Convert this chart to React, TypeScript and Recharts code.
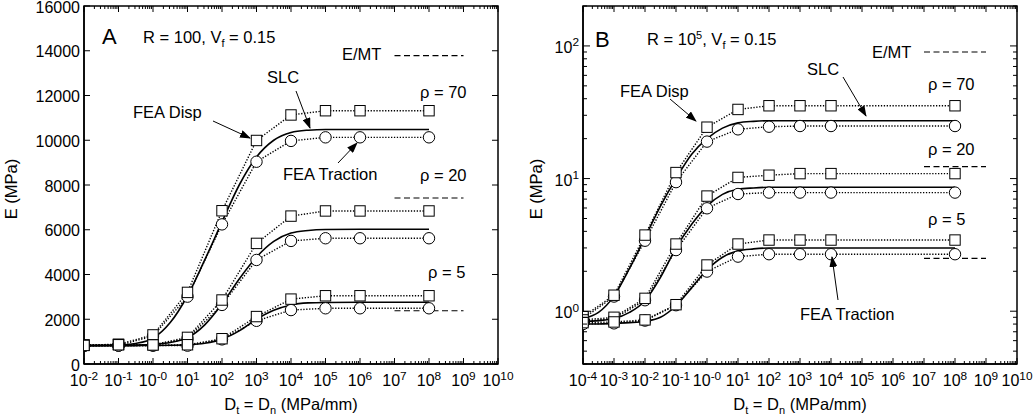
import React from 'react';
import { LineChart, Line, XAxis, YAxis, ReferenceArea } from 'recharts';

const FONT = '"Liberation Sans", Arial, Helvetica, sans-serif';

// ---------- Panel A (R = 100) ----------
const A_X = [0.01, 0.1, 1, 10, 100, 1e3, 1e4, 1e5, 1e6, 1e8];
const A_DISP_70 = [850, 880, 1300, 3200, 6850, 9990, 11130, 11320, 11320, 11320];
const A_TRAC_70 = [820, 830, 1250, 3010, 6240, 9040, 9970, 10130, 10130, 10130];
const A_DISP_20 = [840, 870, 860, 1190, 2860, 5390, 6610, 6840, 6840, 6840];
const A_TRAC_20 = [820, 830, 830, 1140, 2640, 4650, 5500, 5620, 5620, 5620];
const A_DISP_5 = [830, 860, 850, 860, 1130, 2120, 2900, 3050, 3050, 3050];
const A_TRAC_5 = [810, 820, 820, 820, 1100, 1930, 2410, 2490, 2490, 2490];

const A_SLC_X = [0.01, 0.1, 0.316, 1, 3.16, 10, 31.6, 100, 316, 1000, 3160, 1e4, 31600, 1e5, 1e6, 1e8];
const A_SLC_70 = [830, 850, 920, 1150, 1850, 3050, 4650, 6350, 8000, 9250, 10000, 10350, 10450, 10480, 10480, 10480];
const A_SLC_20 = [820, 830, 845, 880, 960, 1170, 1750, 2680, 3800, 4780, 5480, 5850, 5970, 6010, 6020, 6020];
const A_SLC_5 = [820, 820, 822, 830, 838, 860, 930, 1110, 1480, 2000, 2400, 2640, 2730, 2750, 2760, 2760];

const EMT_X = [1e7, 1e9];
const A_EMT = { r70: 13780, r20: 7420, r5: 2380 };

const A_X_DOMAIN: [number, number] = [1e-2, 1e10];
const A_Y_TICKS = [0, 2000, 4000, 6000, 8000, 10000, 12000, 14000, 16000];

// ---------- Panel B (R = 10^5) ----------
const B_X = [1e-4, 1e-3, 1e-2, 1e-1, 1, 10, 100, 1e3, 1e4, 1e8];
const B_DISP_70 = [0.91, 1.32, 3.75, 11.1, 24.4, 33.2, 35.4, 35.4, 35.4, 35.4];
const B_TRAC_70 = [0.88, 1.29, 3.4, 9.4, 19.0, 23.5, 24.6, 24.9, 24.9, 24.9];
const B_DISP_20 = [0.86, 0.9, 1.25, 3.21, 7.38, 10.2, 10.6, 10.9, 10.9, 10.9];
const B_TRAC_20 = [0.84, 0.88, 1.21, 2.89, 5.97, 7.65, 7.84, 7.84, 7.84, 7.84];
const B_DISP_5 = [0.82, 0.83, 0.86, 1.12, 2.23, 3.21, 3.44, 3.44, 3.44, 3.44];
const B_TRAC_5 = [0.8, 0.81, 0.85, 1.11, 1.99, 2.58, 2.69, 2.69, 2.69, 2.69];

const B_SLC_X = [1e-4, 3.16e-4, 1e-3, 3.16e-3, 1e-2, 3.16e-2, 0.1, 0.316, 1, 3.16, 10, 31.6, 100, 1e3, 1e4, 1e8];
const B_SLC_70 = [0.88, 0.98, 1.3, 2.1, 3.6, 6.2, 10.0, 15.2, 20.0, 24.0, 26.3, 27.0, 27.3, 27.3, 27.3, 27.3];
const B_SLC_20 = [0.84, 0.85, 0.88, 0.98, 1.2, 1.8, 3.0, 4.5, 6.2, 7.6, 8.3, 8.5, 8.6, 8.6, 8.6, 8.6];
const B_SLC_5 = [0.8, 0.8, 0.81, 0.82, 0.84, 0.9, 1.1, 1.5, 2.05, 2.55, 2.85, 2.95, 3.0, 3.0, 3.0, 3.0];

const B_EMT = { r70: 90, r20: 12.3, r5: 2.5 };

const B_X_DOMAIN: [number, number] = [1e-4, 1e10];
const B_Y_DOMAIN: [number, number] = [0.4, 200];

// ---------- helpers ----------
const pts = (xs: number[], ys: number[]) => xs.map((x, i) => ({ x, y: ys[i] }));

// decade ticks 1..9 x 10^e within a domain (axis tick positions only)
const logTicks = (lo: number, hi: number) => {
  const out: number[] = [];
  const minE = Math.floor(Math.log10(lo));
  const maxE = Math.ceil(Math.log10(hi));
  for (let e = minE; e <= maxE; e++) {
    for (let m = 1; m <= 9; m++) {
      const v = m * Math.pow(10, e);
      if (v >= lo * 0.999 && v <= hi * 1.001) out.push(v);
    }
  }
  return out;
};

const isMajor = (v: number) => {
  const e = Math.log10(v);
  return Math.abs(e - Math.round(e)) < 1e-6;
};

const Square = (p: any) => {
  const { cx, cy, index } = p;
  if (cx == null || cy == null) return <g key={`sq${index}`} />;
  return <rect key={`sq${index}`} x={cx - 5.2} y={cy - 5.2} width={10.4} height={10.4} fill="#fff" stroke="#000" strokeWidth={1} />;
};
const Circ = (p: any) => {
  const { cx, cy, index } = p;
  if (cx == null || cy == null) return <g key={`ci${index}`} />;
  return <circle key={`ci${index}`} cx={cx} cy={cy} r={5.7} fill="#fff" stroke="#000" strokeWidth={1} />;
};

const TICK_FS = 16;

const makeXTick = (pt: number, pb: number, gap: number) => (props: any) => {
  const { x, payload } = props;
  const v = payload.value;
  const major = isMajor(v);
  const len = major ? 6 : 3;
  const er = Math.round(Math.log10(v));
  const sup = er < 0 ? `-${-er}` : er === 0 ? '-0' : `${er}`;
  return (
    <g>
      <line x1={x} x2={x} y1={pb} y2={pb - len} stroke="#000" strokeWidth={1} />
      <line x1={x} x2={x} y1={pt} y2={pt + len} stroke="#000" strokeWidth={1} />
      {major && (
        <text x={x} y={pb + gap} textAnchor="middle" fontFamily={FONT} fontSize={TICK_FS} fill="#000">
          10<tspan dy={-6.5} fontSize={TICK_FS * 0.74}>{sup}</tspan>
        </text>
      )}
    </g>
  );
};

const makeLinYTick = (pl: number, pr: number) => (props: any) => {
  const { y, payload } = props;
  return (
    <g>
      <line x1={pl} x2={pl + 6} y1={y} y2={y} stroke="#000" strokeWidth={1} />
      <line x1={pr} x2={pr - 6} y1={y} y2={y} stroke="#000" strokeWidth={1} />
      <text x={pl - 4} y={y + 6.5} textAnchor="end" fontFamily={FONT} fontSize={TICK_FS} fill="#000">
        {payload.value}
      </text>
    </g>
  );
};

const makeLogYTick = (pl: number, pr: number) => (props: any) => {
  const { y, payload } = props;
  const v = payload.value;
  const major = isMajor(v);
  const len = major ? 7 : 4;
  const er = Math.round(Math.log10(v));
  return (
    <g>
      <line x1={pl} x2={pl + len} y1={y} y2={y} stroke="#000" strokeWidth={1} />
      <line x1={pr} x2={pr - len} y1={y} y2={y} stroke="#000" strokeWidth={1} />
      {major && (
        <text x={pl - 4} y={y + 7} textAnchor="end" fontFamily={FONT} fontSize={TICK_FS} fill="#000">
          10<tspan dy={-6.5} fontSize={TICK_FS * 0.74}>{`${er}`}</tspan>
        </text>
      )}
    </g>
  );
};

const DOT = '1.3 1.6';
const DASH = '6 3.5';

type PanelProps = {
  width: number;
  margin: { top: number; right: number; bottom: number; left: number };
  yWidth: number;
  xDomain: [number, number];
  xTicks: number[];
  yDomain: [number, number];
  yTicks: number[];
  yLog: boolean;
  pl: number;
  pr: number;
  xs: number[];
  disp: number[][];
  trac: number[][];
  slcX: number[];
  slc: number[][];
  emt: number[];
};

const Panel = (p: PanelProps) => {
  const H = 419;
  const pt = p.margin.top;
  const pb = 364;
  return (
    <LineChart width={p.width} height={H} margin={p.margin}>
      <XAxis
        dataKey="x"
        type="number"
        scale="log"
        domain={p.xDomain}
        allowDataOverflow
        ticks={p.xTicks}
        interval={0}
        tick={makeXTick(pt, pb, 22)}
        tickLine={false}
        axisLine={{ stroke: '#000', strokeWidth: 1.5 }}
        height={30}
      />
      <YAxis
        type="number"
        scale={p.yLog ? 'log' : 'linear'}
        domain={p.yDomain}
        allowDataOverflow
        ticks={p.yTicks}
        interval={0}
        tick={p.yLog ? makeLogYTick(p.pl, p.pr) : makeLinYTick(p.pl, p.pr)}
        tickLine={false}
        axisLine={{ stroke: '#000', strokeWidth: 1.5 }}
        width={p.yWidth}
      />
      <ReferenceArea
        x1={p.xDomain[0]}
        x2={p.xDomain[1]}
        y1={p.yDomain[0]}
        y2={p.yDomain[1]}
        fill="none"
        stroke="#000"
        strokeWidth={1.5}
        ifOverflow="visible"
      />
      {p.emt.map((v, i) => (
        <Line
          key={`emt${i}`}
          data={pts(EMT_X, [v, v])}
          dataKey="y"
          type="linear"
          stroke="#000"
          strokeWidth={1.2}
          strokeDasharray={DASH}
          dot={false}
          isAnimationActive={false}
        />
      ))}
      {p.slc.map((ys, i) => (
        <Line
          key={`slc${i}`}
          data={pts(p.slcX, ys)}
          dataKey="y"
          type="monotone"
          stroke="#000"
          strokeWidth={1.6}
          dot={false}
          isAnimationActive={false}
        />
      ))}
      {p.trac.map((ys, i) => (
        <Line
          key={`tr${i}`}
          data={pts(p.xs, ys)}
          dataKey="y"
          type="linear"
          stroke="#000"
          strokeWidth={1.4}
          strokeDasharray={DOT}
          dot={Circ}
          isAnimationActive={false}
        />
      ))}
      {p.disp.map((ys, i) => (
        <Line
          key={`dp${i}`}
          data={pts(p.xs, ys)}
          dataKey="y"
          type="linear"
          stroke="#000"
          strokeWidth={1.4}
          strokeDasharray={DOT}
          dot={Square}
          isAnimationActive={false}
        />
      ))}
    </LineChart>
  );
};

const Arrow = ({ x1, y1, x2, y2 }: { x1: number; y1: number; x2: number; y2: number }) => (
  <line x1={x1} y1={y1} x2={x2} y2={y2} stroke="#000" strokeWidth={1} markerEnd="url(#ah)" />
);

const T = (props: any) => <text fontFamily={FONT} fontSize={16.5} fill="#000" {...props} />;

export default function App() {
  const aXTicks = logTicks(A_X_DOMAIN[0], A_X_DOMAIN[1]);
  const bXTicks = logTicks(B_X_DOMAIN[0], B_X_DOMAIN[1]);
  const bYTicks = logTicks(B_Y_DOMAIN[0], B_Y_DOMAIN[1]);
  return (
    <div style={{ position: 'absolute', left: 0, top: 0, width: 1035, height: 419, background: '#fff' }}>
      <div style={{ position: 'absolute', left: 0, top: 0 }}>
        <Panel
          width={525}
          margin={{ top: 6, right: 27, bottom: 25, left: 24 }}
          yWidth={60}
          xDomain={A_X_DOMAIN}
          xTicks={aXTicks}
          yDomain={[0, 16000]}
          yTicks={A_Y_TICKS}
          yLog={false}
          pl={84}
          pr={498}
          xs={A_X}
          disp={[A_DISP_70, A_DISP_20, A_DISP_5]}
          trac={[A_TRAC_70, A_TRAC_20, A_TRAC_5]}
          slcX={A_SLC_X}
          slc={[A_SLC_70, A_SLC_20, A_SLC_5]}
          emt={[A_EMT.r70, A_EMT.r20, A_EMT.r5]}
        />
      </div>
      <div style={{ position: 'absolute', left: 510, top: 0 }}>
        <Panel
          width={525}
          margin={{ top: 6, right: 18, bottom: 25, left: 13 }}
          yWidth={60}
          xDomain={B_X_DOMAIN}
          xTicks={bXTicks}
          yDomain={B_Y_DOMAIN}
          yTicks={bYTicks}
          yLog={true}
          pl={73}
          pr={507}
          xs={B_X}
          disp={[B_DISP_70, B_DISP_20, B_DISP_5]}
          trac={[B_TRAC_70, B_TRAC_20, B_TRAC_5]}
          slcX={B_SLC_X}
          slc={[B_SLC_70, B_SLC_20, B_SLC_5]}
          emt={[B_EMT.r70, B_EMT.r20, B_EMT.r5]}
        />
      </div>
      <svg width={1035} height={419} style={{ position: 'absolute', left: 0, top: 0, pointerEvents: 'none' }}>
        <defs>
          <marker id="ah" markerWidth="11" markerHeight="8" refX="10" refY="4" orient="auto" markerUnits="userSpaceOnUse">
            <path d="M0,0 L11,4 L0,8 z" fill="#000" />
          </marker>
        </defs>
        {/* axis titles */}
        <T x={17} y={189} textAnchor="middle" transform="rotate(-90 17 189)">E (MPa)</T>
        <T x={542} y={189} textAnchor="middle" transform="rotate(-90 542 189)">E (MPa)</T>
        <T x={291} y={410} textAnchor="middle">
          D<tspan dy={4} fontSize={11}>t</tspan><tspan dy={-4}> = D</tspan><tspan dy={4} fontSize={11}>n</tspan><tspan dy={-4}> (MPa/mm)</tspan>
        </T>
        <T x={800} y={410} textAnchor="middle">
          D<tspan dy={4} fontSize={11}>t</tspan><tspan dy={-4}> = D</tspan><tspan dy={4} fontSize={11}>n</tspan><tspan dy={-4}> (MPa/mm)</tspan>
        </T>
        {/* panel A */}
        <T x={102} y={44} fontSize={22}>A</T>
        <T x={143} y={43}>
          R = 100, V<tspan dy={4} fontSize={11}>f</tspan><tspan dy={-4}> = 0.15</tspan>
        </T>
        <T x={342} y={60}>E/MT</T>
        <T x={267} y={83}>SLC</T>
        <T x={420} y={98}>ρ = 70</T>
        <T x={133} y={118}>FEA Disp</T>
        <T x={283} y={180}>FEA Traction</T>
        <T x={420} y={181}>ρ = 20</T>
        <T x={428} y={278}>ρ = 5</T>
        <Arrow x1={213} y1={121} x2={250} y2={138} />
        <Arrow x1={296} y1={91} x2={310} y2={128} />
        <Arrow x1={338} y1={163} x2={357} y2={143} />
        {/* panel B */}
        <T x={595} y={47} fontSize={22}>B</T>
        <T x={647} y={45}>
          R = 10<tspan dy={-6} fontSize={11}>5</tspan><tspan dy={6}>, V</tspan><tspan dy={4} fontSize={11}>f</tspan><tspan dy={-4}> = 0.15</tspan>
        </T>
        <T x={620} y={97}>FEA Disp</T>
        <T x={872} y={58}>E/MT</T>
        <T x={807} y={75}>SLC</T>
        <T x={928} y={90}>ρ = 70</T>
        <T x={928} y={155}>ρ = 20</T>
        <T x={928} y={225}>ρ = 5</T>
        <T x={800} y={320}>FEA Traction</T>
        <Arrow x1={670} y1={99} x2={696} y2={121} />
        <Arrow x1={843} y1={77} x2={866} y2={116} />
        <Arrow x1={838} y1={300} x2={832} y2={257} />
      </svg>
    </div>
  );
}
